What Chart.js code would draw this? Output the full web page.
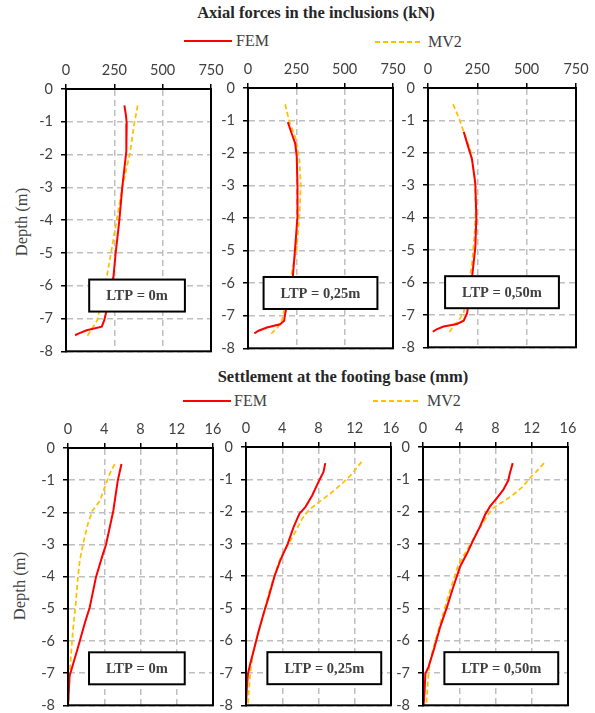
<!DOCTYPE html>
<html>
<head>
<meta charset="utf-8">
<script src="https://cdn.jsdelivr.net/npm/chart.js@4.4.0/dist/chart.umd.min.js"></script>
<style>
  body { margin: 0; width: 595px; height: 713px; background: #fff; position: relative; overflow: hidden; font-family: "Liberation Serif", serif; }
  canvas { position: absolute; }
  svg { position: absolute; }
  .txt { position: absolute; transform: translate(-50%, -50%); white-space: nowrap; color: #262626; }
  .title { font-weight: bold; font-size: 16.5px; }
  .leg { font-size: 16px; color: #404040; transform: translate(0, -50%); }
  .depth { font-size: 16.5px; color: #404040; transform: translate(-50%, -50%) rotate(-90deg); }
</style>
</head>
<body>

<div class="txt title" style="left:316px; top:13px;">Axial forces in the inclusions (kN)</div>
<svg style="left:184px; top:37px;" width="48" height="8"><line x1="0" y1="4" x2="48" y2="4" stroke="#ff0000" stroke-width="2"/></svg>
<div class="txt leg" style="left:236px; top:41px;">FEM</div>
<svg style="left:375px; top:38px;" width="48" height="8"><line x1="0" y1="4" x2="48" y2="4" stroke="#ffc000" stroke-width="2" stroke-dasharray="5,3"/></svg>
<div class="txt leg" style="left:428px; top:42px;">MV2</div>
<div class="txt depth" style="left:22px; top:222px;">Depth (m)</div>

<div class="txt title" style="left:343px; top:377px;">Settlement at the footing base (mm)</div>
<svg style="left:183px; top:397px;" width="48" height="8"><line x1="0" y1="4" x2="48" y2="4" stroke="#ff0000" stroke-width="2"/></svg>
<div class="txt leg" style="left:234px; top:401px;">FEM</div>
<svg style="left:373px; top:397px;" width="48" height="8"><line x1="0" y1="4" x2="48" y2="4" stroke="#ffc000" stroke-width="2" stroke-dasharray="5,3"/></svg>
<div class="txt leg" style="left:427px; top:401px;">MV2</div>
<div class="txt depth" style="left:20px; top:586px;">Depth (m)</div>

<canvas id="p1" width="208" height="309" style="left:21px; top:59px;"></canvas>
<canvas id="p2" width="208" height="307" style="left:203px; top:58px;"></canvas>
<canvas id="p3" width="211" height="306" style="left:383px; top:58px;"></canvas>
<canvas id="p4" width="208" height="304" style="left:23px; top:418px;"></canvas>
<canvas id="p5" width="208" height="305" style="left:201px; top:417px;"></canvas>
<canvas id="p6" width="208" height="305" style="left:378px; top:417px;"></canvas>

<script>
// tick values
const forceTicks = [0, 250, 500, 750];
const settleTicks = [0, 4, 8, 12, 16];
const depthTicks = [0, -1, -2, -3, -4, -5, -6, -7, -8];
const ltpLabels = ['LTP = 0m', 'LTP = 0,25m', 'LTP = 0,50m'];

// axial force (kN), depth (m)
const axialFem0 = [[302,-0.5],[310,-0.8],[314,-1.05],[312,-1.9],[291,-3.0],[276,-4.0],[257,-5.0],[245,-5.75],[210,-6.75],[198,-7.05],[185,-7.25],[107,-7.36],[64,-7.46],[47,-7.51]];
const axialMv0 = [[371,-0.5],[353,-1.05],[331,-1.95],[291,-3.0],[262,-4.0],[233,-5.0],[210,-5.75],[162,-7.05],[107,-7.56]];
const axialFem25 = [[206,-1.05],[226,-1.4],[244,-1.7],[252,-2.1],[256,-3.0],[256,-3.95],[244,-4.9],[232,-5.8],[192,-6.95],[187,-7.15],[166,-7.26],[98,-7.36],[55,-7.46],[33,-7.54]];
const axialMv25 = [[192,-0.5],[214,-1.03],[244,-1.5],[266,-2.2],[273,-3.0],[266,-3.95],[252,-4.9],[226,-5.7],[175,-7.15],[153,-7.36],[112,-7.6]];
const axialFem50 = [[181,-1.35],[198,-1.7],[223,-2.2],[240,-2.95],[245,-4.0],[240,-4.9],[223,-5.85],[198,-6.95],[181,-7.18],[147,-7.28],[79,-7.36],[46,-7.44],[24,-7.52]];
const axialMv50 = [[127,-0.5],[155,-0.9],[181,-1.35],[215,-1.93],[236,-2.75],[242,-3.7],[236,-4.5],[223,-5.43],[181,-6.92],[155,-7.18],[130,-7.33],[105,-7.57]];

// settlement (mm), depth (m)
const settleFem0 = [[5.9,-0.5],[5.5,-1.0],[5.0,-1.95],[4.2,-3.0],[3.85,-3.3],[3.1,-4.0],[2.4,-4.95],[1.85,-5.45],[1.1,-6.2],[0.37,-6.9],[0.18,-7.07],[0.07,-7.65],[0,-8]];
const settleMv0 = [[5.15,-0.5],[4.6,-0.8],[4.15,-1.15],[3.5,-1.65],[2.7,-1.95],[2.2,-2.35],[1.65,-3.0],[1.3,-3.5],[1.1,-4.0],[0.85,-4.85],[0.55,-5.65],[0.37,-6.3],[0.18,-7.0],[0.1,-7.65],[0.07,-8]];
const settleFem25 = [[8.75,-0.5],[8.55,-0.77],[8.0,-1.08],[7.3,-1.5],[6.55,-1.86],[5.9,-2.06],[5.25,-2.48],[4.6,-3.0],[3.8,-3.5],[3.15,-4.0],[2.5,-4.65],[1.95,-5.15],[1.4,-5.7],[0.85,-6.3],[0.48,-6.7],[0.22,-7.02],[0.1,-7.45],[0,-8]];
const settleMv25 = [[12.75,-0.46],[11.7,-0.83],[10.8,-1.08],[9.5,-1.4],[7.85,-1.75],[6.9,-1.96],[6.2,-2.22],[5.35,-2.68],[4.5,-3.1],[3.85,-3.4],[3.15,-3.97],[2.5,-4.55],[1.9,-5.25],[1.2,-5.9],[0.77,-6.4],[0.48,-7.0],[0.33,-7.5],[0.22,-8]];
const settleFem50 = [[9.9,-0.5],[9.6,-0.8],[9.4,-1.04],[8.85,-1.33],[8.15,-1.58],[7.4,-1.84],[6.85,-2.1],[6.3,-2.46],[5.55,-2.88],[4.85,-3.3],[4.1,-3.7],[3.35,-4.33],[2.65,-4.95],[1.9,-5.57],[1.17,-6.3],[0.62,-6.8],[0.26,-7.02],[0.18,-7.54],[0.07,-8]];
const settleMv50 = [[13.35,-0.5],[12.5,-0.76],[11.8,-0.96],[11.05,-1.22],[9.95,-1.48],[8.85,-1.69],[7.75,-1.89],[7.05,-2.15],[6.1,-2.57],[5.4,-2.93],[4.65,-3.29],[3.9,-3.65],[3.35,-4.12],[2.65,-4.74],[1.9,-5.47],[1.17,-6.19],[0.73,-6.71],[0.55,-7.23],[0.37,-8]];

function toPoints(arr) {
    return arr.map(p => ({x: p[0], y: p[1]}));
}

// black frame round the plot area and the white LTP box
const framePlugin = {
    id: 'frame',
    afterDatasetsDraw(chart, args, opts) {
        const a = chart.chartArea;
        const ctx = chart.ctx;
        ctx.save();
        ctx.font = 'bold 14.5px "Liberation Serif", serif';
        const tw = ctx.measureText(opts.label).width;
        const bw = tw + 34, bh = 32;
        const cx = a.left + (a.right - a.left) * opts.fx;
        const cy = chart.scales.y.getPixelForValue(opts.depth);
        ctx.fillStyle = '#fff';
        ctx.fillRect(cx - bw / 2, cy - bh / 2, bw, bh);
        ctx.lineWidth = 2;
        ctx.strokeStyle = '#000';
        ctx.strokeRect(cx - bw / 2, cy - bh / 2, bw, bh);
        ctx.strokeRect(a.left, a.top, a.right - a.left, a.bottom - a.top);
        ctx.fillStyle = '#404040';
        ctx.textAlign = 'center';
        ctx.textBaseline = 'middle';
        ctx.fillText(opts.label, cx, cy + 1);
        ctx.restore();
    }
};

function drawPanel(id, fem, mv, xTicks, label, fx, depth) {
    const tickFont = {family: 'Lato, sans-serif', size: 14.5};
    new Chart(document.getElementById(id), {
        type: 'scatter',
        data: {
            datasets: [
                {label: 'FEM', data: toPoints(fem), showLine: true, borderColor: '#ff0000', borderWidth: 2, pointRadius: 0, tension: 0},
                {label: 'MV2', data: toPoints(mv), showLine: true, borderColor: '#ffc000', borderWidth: 1.75, borderDash: [5, 3], pointRadius: 0, tension: 0}
            ]
        },
        options: {
            responsive: false,
            animation: false,
            layout: {padding: {left: 0, top: 0, right: 18, bottom: 10}},
            plugins: {
                legend: {display: false},
                tooltip: {enabled: false},
                frame: {label: label, fx: fx, depth: depth}
            },
            scales: {
                x: {
                    type: 'linear',
                    position: 'top',
                    min: xTicks[0],
                    max: xTicks[xTicks.length - 1],
                    ticks: {stepSize: xTicks[1] - xTicks[0], font: tickFont, color: '#404040', padding: 5, maxRotation: 0},
                    grid: {color: '#bfbfbf', lineWidth: 1.5, tickLength: 5, tickColor: '#000', tickWidth: 1.5},
                    border: {color: '#000', width: 2, dash: [6, 4]},
                    afterFit: s => { s.height = 30; }
                },
                y: {
                    type: 'linear',
                    min: depthTicks[depthTicks.length - 1],
                    max: depthTicks[0],
                    ticks: {stepSize: 1, font: tickFont, color: '#404040', padding: 8},
                    grid: {color: '#bfbfbf', lineWidth: 1.5, tickLength: 5, tickColor: '#000', tickWidth: 1.5},
                    border: {color: '#000', width: 2, dash: [6, 4]},
                    afterFit: s => { s.width = 45; }
                }
            }
        },
        plugins: [framePlugin]
    });
}

drawPanel('p1', axialFem0, axialMv0, forceTicks, ltpLabels[0], 0.49, -6.3);
drawPanel('p2', axialFem25, axialMv25, forceTicks, ltpLabels[1], 0.50, -6.3);
drawPanel('p3', axialFem50, axialMv50, forceTicks, ltpLabels[2], 0.50, -6.3);
drawPanel('p4', settleFem0, settleMv0, settleTicks, ltpLabels[0], 0.475, -6.85);
drawPanel('p5', settleFem25, settleMv25, settleTicks, ltpLabels[1], 0.54, -6.85);
drawPanel('p6', settleFem50, settleMv50, settleTicks, ltpLabels[2], 0.54, -6.85);
</script>
</body>
</html>
